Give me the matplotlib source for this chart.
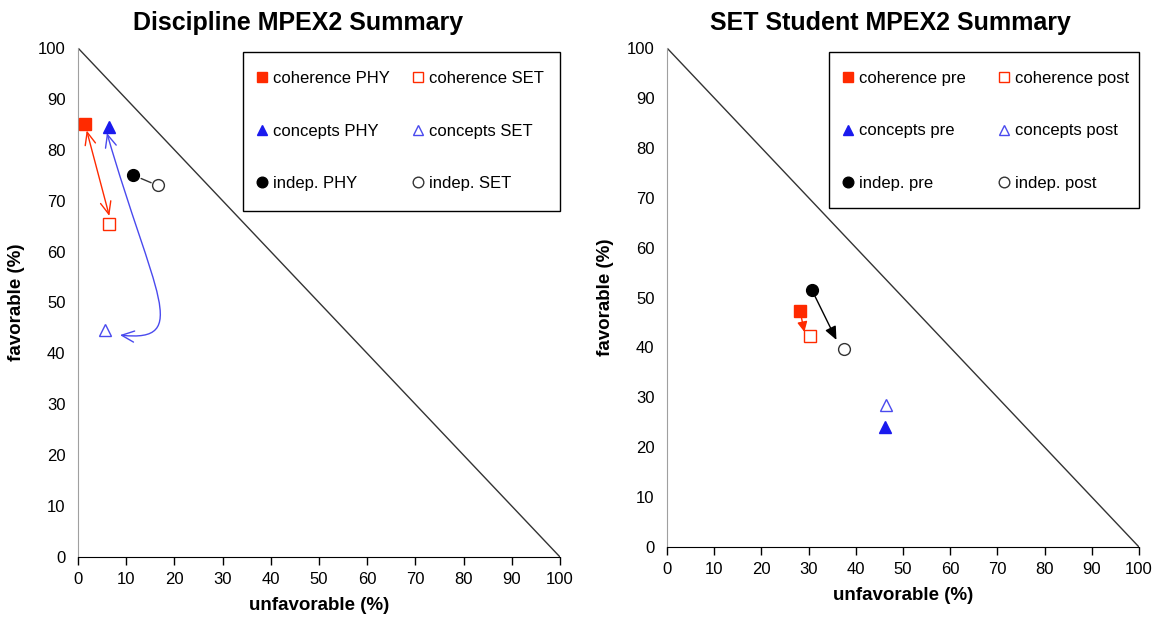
import matplotlib
matplotlib.use("Agg")
import matplotlib.pyplot as plt
from matplotlib.patches import FancyArrowPatch, Rectangle
from matplotlib.path import Path
from matplotlib.legend import Legend

plt.rcParams['font.family'] = ['Liberation Sans', 'DejaVu Sans']

# ---------------- data ----------------
categories = ["coherence", "concepts", "indep."]

# Left: Discipline summary (unfavorable, favorable)
left_titles = ("PHY", "SET")
left_phy_unfav = [1.5, 6.5, 11.5]
left_phy_fav = [85.0, 84.5, 75.0]
left_set_unfav = [6.5, 5.5, 16.5]
left_set_fav = [65.5, 44.5, 73.0]

# Right: SET student summary (pre / post)
right_titles = ("pre", "post")
right_pre_unfav = [28.2, 46.2, 30.7]
right_pre_fav = [47.3, 24.0, 51.5]
right_post_unfav = [30.3, 46.4, 37.5]
right_post_fav = [42.3, 28.5, 39.7]

ticks = list(range(0, 101, 10))

RED = "#ff2a00"
BLUE = "#1a1aee"
markers = ["s", "^", "o"]
fill_colors = [RED, BLUE, "black"]
open_colors = [RED, "#4a4aee", "#333333"]

fig = plt.figure(figsize=(11.61, 6.19), dpi=100)
axL = fig.add_axes([78/1161, 1-557/619, 482/1161, 509/619])
axR = fig.add_axes([667/1161, 1-547/619, 472/1161, 499/619])


def style_axes(ax, title, title_x):
    ax.set_xlim(0, 100)
    ax.set_ylim(0, 100)
    ax.set_xticks(ticks)
    ax.set_yticks(ticks)
    ax.spines['top'].set_visible(False)
    ax.spines['right'].set_visible(False)
    ax.spines['left'].set_color('#a0a0a0')
    ax.spines['bottom'].set_color('black')
    ax.tick_params(axis='x', direction='out', length=6, width=1, labelsize=12, pad=5)
    ax.tick_params(axis='y', length=0, labelsize=12, pad=9)
    ax.set_xlabel("unfavorable (%)", fontsize=13.5, fontweight='bold', labelpad=7)
    ax.set_ylabel("favorable (%)", fontsize=13.5, fontweight='bold', labelpad=9)
    ax.set_title(title, fontsize=18, fontweight='bold', pad=13, x=title_x)
    ax.plot([0, 100], [100, 0], color='#333333', lw=1.0, zorder=1)


def draw_points(ax, ux1, fy1, ux2, fy2, names):
    col1, col2 = [], []
    for i, cat in enumerate(categories):
        h1, = ax.plot(ux1[i], fy1[i], linestyle='none', marker=markers[i], ms=8.5,
                      color=fill_colors[i], mec=fill_colors[i], zorder=5,
                      label=f"{cat} {names[0]}")
        h2, = ax.plot(ux2[i], fy2[i], linestyle='none', marker=markers[i], ms=8.5,
                      mfc='white', mec=open_colors[i], mew=1.0, zorder=5,
                      label=f"{cat} {names[1]}")
        col1.append(h1)
        col2.append(h2)

    # legend frame (fixed box at the upper right of the plot area)
    W, H = ax.bbox.width, ax.bbox.height
    fx0, fy1_ = 0.343, 0.992
    rect = Rectangle((fx0, 0.679), 1.0 - fx0, fy1_ - 0.679, transform=ax.transAxes,
                     facecolor='white', edgecolor='black', lw=1.0, zorder=6, clip_on=False)
    ax.add_patch(rect)

    fs_px = 12 * 100 / 72.0
    hl = 0.7
    common = dict(fontsize=12, frameon=False, labelspacing=2.25, borderpad=0,
                  handlelength=hl, handletextpad=0.3, borderaxespad=0,
                  markerscale=0.9, loc='upper left')
    top = fy1_ - 19.0 / H
    for handles, off in ((col1, 19.0), (col2, 175.0)):
        x = fx0 + (off - hl * fs_px / 2.0) / W
        leg = Legend(ax, handles, [h.get_label() for h in handles],
                     bbox_to_anchor=(x, top), bbox_transform=ax.transAxes, **common)
        leg.set_zorder(7)
        ax.add_artist(leg)


style_axes(axL, "Discipline MPEX2 Summary", 0.456)
style_axes(axR, "SET Student MPEX2 Summary", 0.474)

draw_points(axL, left_phy_unfav, left_phy_fav, left_set_unfav, left_set_fav, left_titles)
draw_points(axR, right_pre_unfav, right_pre_fav, right_post_unfav, right_post_fav, right_titles)

# ---------- arrows (left) ----------
# coherence: double-headed straight arrow
axL.annotate("", xy=(left_set_unfav[0], left_set_fav[0] + 1.5),
             xytext=(left_phy_unfav[0] + 0.3, left_phy_fav[0] - 1.2),
             arrowprops=dict(arrowstyle="<->,head_length=0.9,head_width=0.38",
                             color=RED, lw=1.0, shrinkA=0, shrinkB=0), zorder=4)
# indep: plain connecting line
axL.annotate("", xy=(left_set_unfav[2], left_set_fav[2]),
             xytext=(left_phy_unfav[2], left_phy_fav[2]),
             arrowprops=dict(arrowstyle="-", color='#333333', lw=1.0,
                             shrinkA=6, shrinkB=5), zorder=4)
# concepts: curved double-headed arrow
p0 = (left_phy_unfav[1] - 0.5, left_phy_fav[1] - 1.2)
p3 = (left_set_unfav[1] + 3.2, left_set_fav[1] - 0.9)
p1 = (p0[0] + 9.6, p0[1] - 31.5)
p2 = (p3[0] + 15.0, p3[1] - 1.5)
curve = Path([p0, p1, p2, p3], [Path.MOVETO, Path.CURVE4, Path.CURVE4, Path.CURVE4])
fa = FancyArrowPatch(path=curve, arrowstyle="<->,head_length=9,head_width=4",
                     color="#4a4aee", lw=1.0, transform=axL.transData, zorder=4)
axL.add_patch(fa)

# ---------- arrows (right) ----------
axR.annotate("", xy=(right_post_unfav[0] - 1.2, right_post_fav[0] + 0.8),
             xytext=(right_pre_unfav[0], right_pre_fav[0]),
             arrowprops=dict(arrowstyle="-|>,head_length=0.6,head_width=0.3",
                             color=RED, lw=1.0, shrinkA=5, shrinkB=0), zorder=4)
axR.annotate("", xy=(right_post_unfav[2] - 1.6, right_post_fav[2] + 1.8),
             xytext=(right_pre_unfav[2], right_pre_fav[2]),
             arrowprops=dict(arrowstyle="-|>,head_length=0.8,head_width=0.35",
                             color='black', lw=1.0, shrinkA=5, shrinkB=0), zorder=4)

fig.savefig("out.png", dpi=100, facecolor='white')
